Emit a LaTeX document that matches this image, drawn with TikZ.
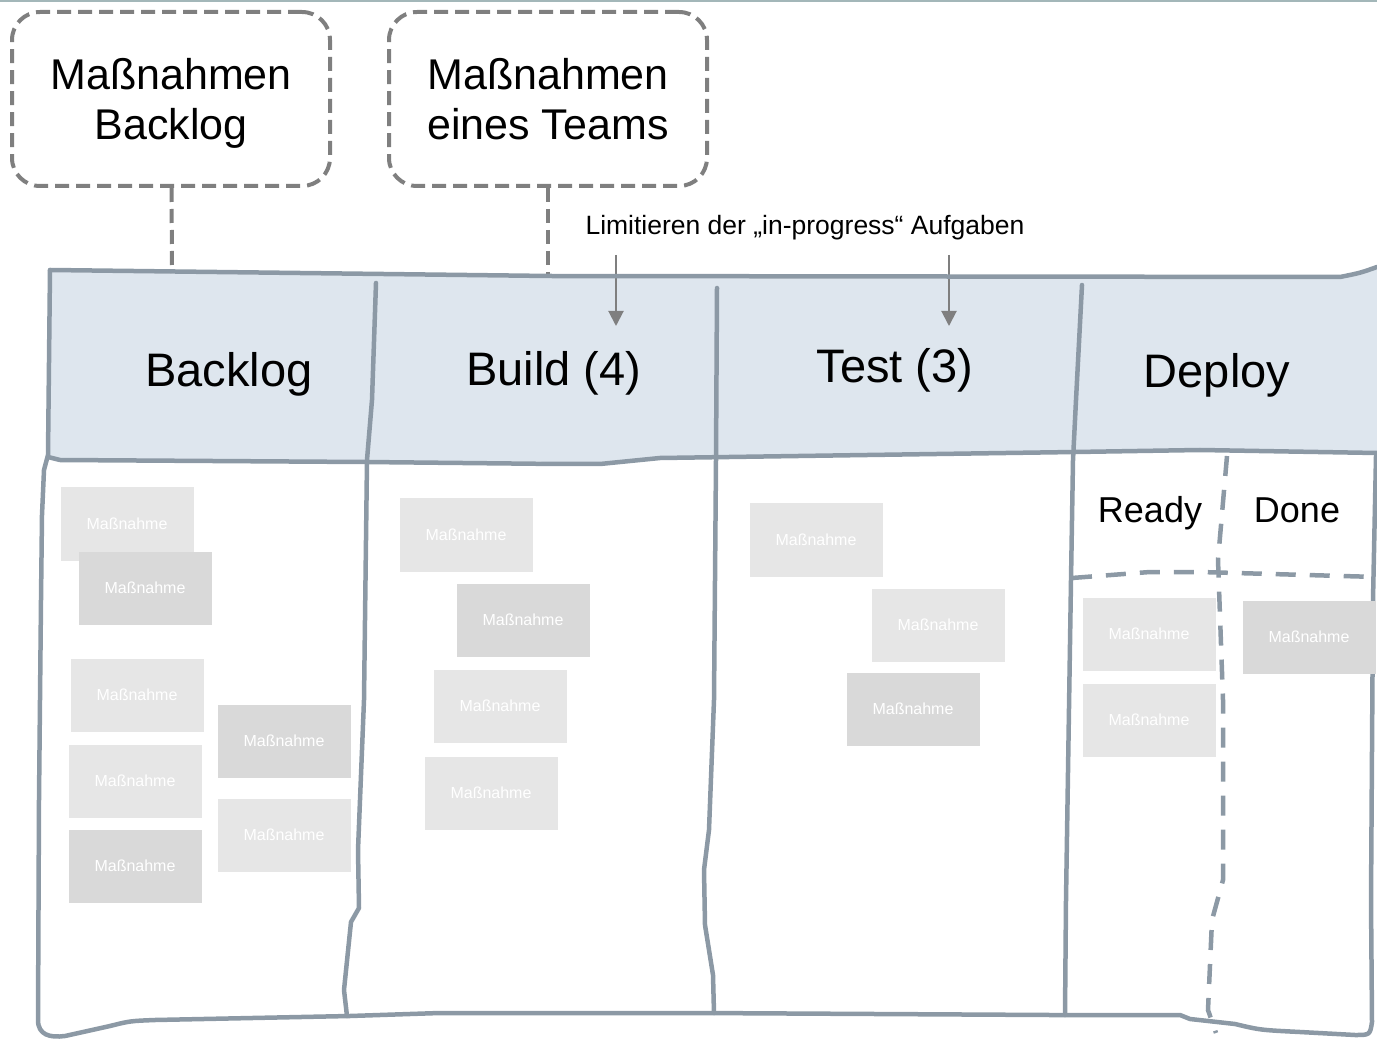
\documentclass[tikz,border=0pt]{standalone}
\usepackage{fontspec}
\setmainfont{Liberation Sans}
\usepackage{xcolor}
\definecolor{board-line}{HTML}{8C99A5}
\definecolor{head-fill}{HTML}{DEE6EE}
\definecolor{card-light}{HTML}{E6E6E6}
\definecolor{card-dark}{HTML}{D9D9D9}
\definecolor{note-gray}{HTML}{7F7F7F}
\definecolor{rule-top}{HTML}{A3B7B9}
\usetikzlibrary{arrows.meta}
\usetikzlibrary{positioning}
\tikzset{note/.style = {draw=note-gray, line width=4pt, dash pattern=on 14pt off 7pt, rounded corners=28pt, minimum width=318pt, minimum height=174pt, align=center, font=\fontsize{43}{50}\selectfont}}
\tikzset{notelink/.style = {draw=note-gray, line width=4pt, dash pattern=on 14pt off 7pt}}
\tikzset{head/.style = {font=\fontsize{47}{56}\selectfont}}
\tikzset{subhead/.style = {font=\fontsize{36}{43}\selectfont}}
\tikzset{card/.style = {fill=card-light, minimum width=133pt, minimum height=73pt, inner sep=0pt, text=white, font=\fontsize{16}{19}\selectfont}}
\tikzset{carddark/.style = {card, fill=card-dark}}
\tikzset{edge/.style = {draw=board-line, line width=4.5pt, line join=round, line cap=round}}
\tikzset{split/.style = {draw=board-line, line width=4.5pt, dash pattern=on 20pt off 14pt}}
\tikzset{arr/.style = {draw=note-gray, line width=2pt, -{Triangle[width=15pt,length=15pt]}}}

\begin{document}
\begin{tikzpicture}[x=1pt, y=-1pt]
\useasboundingbox (0,0) rectangle (1377,1040);
\draw[rule-top, line width=2.5pt] (0,1) -- (1377,1);

% header band
\fill[head-fill] (50,272) -- (550,278) -- (1340,279) -- (1377,268) -- (1377,454)
  -- (1200,451) -- (1075,452) -- (660,458) -- (600,462) -- (365,461) -- (48,458) -- cycle;

\node[note] (nbacklog) at (171,99) {Maßnahmen\\\smash{Backlog}};
\node[note] (nteam) at (548,99) {Maßnahmen\\eines Teams};
\coordinate (bl-link) at (172,273);
\coordinate (tm-link) at (548,277);
\draw[notelink] (nbacklog) -- (bl-link);
\draw[notelink] (nteam) -- (tm-link);

\node[font=\fontsize{26.5}{31}\selectfont] (lim) at (805,228) {Limitieren der „in-progress“ Aufgaben};
\coordinate (buildtop) at (616,255);
\coordinate (buildcap) at (616,326);
\coordinate (testtop) at (949,255);
\coordinate (testcap) at (949,326);
\draw[arr] (buildtop) -- (buildcap);
\draw[arr] (testtop) -- (testcap);

% board outline
\draw[edge] (50,270) -- (550,276) -- (1340,277) .. controls (1360,273) .. (1377,267);
\draw[edge] (50,270) -- (48,455) -- (44,470) -- (42,515) -- (41,600) -- (39,800)
  -- (38,1020) .. controls (38,1035) and (50,1038) .. (65,1036) -- (110,1026)
  .. controls (130,1021) .. (155,1020) -- (350,1016) -- (440,1013) -- (700,1013)
  -- (1050,1015) -- (1180,1015) -- (1190,1019) -- (1235,1024)
  .. controls (1260,1030) .. (1300,1032) -- (1355,1035)
  .. controls (1370,1035) .. (1372,1022) -- (1371,900) -- (1373,600) -- (1376,456);
\draw[edge] (48,457) -- (60,460) -- (365,462) -- (560,464) -- (600,464) -- (660,458)
  -- (1075,452) -- (1200,450) -- (1377,453);
\draw[edge] (376,283) -- (372,400) -- (367,460) -- (364,700) -- (358,850) -- (359,908)
  -- (351,922) -- (344,990) -- (347,1016);
\draw[edge] (717,288) -- (716,460) -- (714,700) -- (709,830) -- (704,870) -- (705,925)
  -- (713,975) -- (714,1013);
\draw[edge] (1082,285) -- (1076,400) -- (1073,460) -- (1071,580) -- (1066,900) -- (1065,1015);
\draw[split] (1227,456) -- (1218,560) -- (1223,700) -- (1223,880) -- (1212,920) -- (1208,1010) -- (1216,1033);
\draw[split] (1072,578) -- (1150,572) -- (1200,572) -- (1377,577);

\node[head] (backlog) at (229,374) {Backlog};
\node[head] (build) at (554,373) {Build (4)};
\node[head] (test) at (895,370) {Test (3)};
\node[head] (deploy) at (1217,375) {Deploy};
\node[subhead] (ready) at (1150,513) {Ready};
\node[subhead] (done) at (1297,510) {Done};

% cards
\node[card] (c1) at (127,524) {Maßnahme};
\node[carddark] (c2) at (145,588) {Maßnahme};
\node[card] (c3) at (137,695) {Maßnahme};
\node[carddark] (c4) at (284,741) {Maßnahme};
\node[card] (c5) at (135,781) {Maßnahme};
\node[card] (c6) at (284,835) {Maßnahme};
\node[carddark] (c7) at (135,866) {Maßnahme};
\node[card] (b1) at (466,535) {Maßnahme};
\node[carddark] (b2) at (523,620) {Maßnahme};
\node[card] (b3) at (500,706) {Maßnahme};
\node[card] (b4) at (491,793) {Maßnahme};
\node[card] (t1) at (816,540) {Maßnahme};
\node[card] (t2) at (938,625) {Maßnahme};
\node[carddark] (t3) at (913,709) {Maßnahme};
\node[card] (d1) at (1149,634) {Maßnahme};
\node[card] (d2) at (1149,720) {Maßnahme};
\node[carddark] (d3) at (1309,637) {Maßnahme};

\end{tikzpicture}
\end{document}
